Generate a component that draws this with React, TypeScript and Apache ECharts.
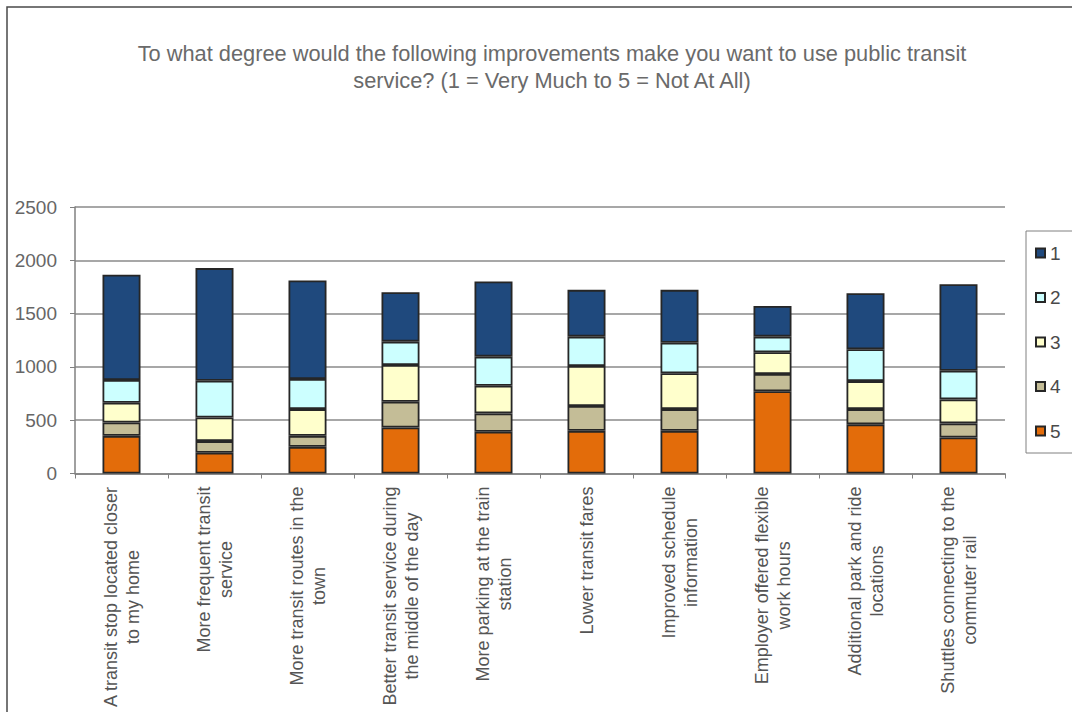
import React, { useEffect, useRef } from "react";
import * as echarts from "echarts";

const titleLines = [
  "To what degree would the following improvements make you want to use public transit",
  "service? (1 = Very Much to 5 = Not At All)",
];

const categories = [
  "A transit stop located closer\nto my home",
  "More frequent transit\nservice",
  "More transit routes in the\ntown",
  "Better transit service during\nthe middle of the day",
  "More parking at the train\nstation",
  "Lower transit fares",
  "Improved schedule\ninformation",
  "Employer offered flexible\nwork hours",
  "Additional park and ride\nlocations",
  "Shuttles connecting to the\ncommuter rail",
];

const legendOrder = ["1", "2", "3", "4", "5"];

// values per rating (stacked bottom to top: 5, 4, 3, 2, 1)
const rating5 = [353, 194, 250, 432, 391, 400, 400, 771, 461, 338];
const rating4 = [126, 110, 103, 241, 173, 233, 204, 162, 143, 132];
const rating3 = [185, 222, 251, 345, 259, 375, 336, 204, 263, 225];
const rating2 = [213, 344, 282, 219, 273, 276, 287, 147, 298, 269];
const rating1 = [987, 1057, 924, 464, 705, 439, 496, 288, 527, 812];

const yTicks = { min: 0, max: 2500, interval: 500 };

const FONT = "'Liberation Sans', Arial, sans-serif";

export default function App() {
  const ref = useRef<HTMLDivElement>(null);

  useEffect(() => {
    if (!ref.current) return;
    const chart = echarts.init(ref.current, null, { renderer: "svg" });

    const seriesDefs = [
      { name: "5", data: rating5, color: "#E36C0A" },
      { name: "4", data: rating4, color: "#C4BD97" },
      { name: "3", data: rating3, color: "#FFFFCC" },
      { name: "2", data: rating2, color: "#CCFFFF" },
      { name: "1", data: rating1, color: "#1F497D" },
    ];

    chart.setOption({
      animation: false,
      backgroundColor: "#ffffff",
      title: {
        text: titleLines.join("\n"),
        left: 547,
        top: 35,
        textAlign: "center",
        textStyle: {
          fontFamily: FONT,
          fontSize: 21.8,
          fontWeight: "normal",
          color: "#6a6a6a",
          lineHeight: 27,
        },
      },
      graphic: [
        {
          type: "rect",
          shape: { x: 7, y: 7, width: 1200, height: 900 },
          style: { fill: "none", stroke: "#4a4a4a", lineWidth: 1.5 },
          silent: true,
          z: -1,
        },
      ],
      legend: {
        data: legendOrder,
        orient: "vertical",
        left: 1026,
        top: 231,
        padding: [12, 12, 12, 9],
        icon: "rect",
        itemWidth: 9,
        itemHeight: 9,
        itemGap: 24.5,
        itemTextGap: 4,
        borderColor: "#808080",
        borderWidth: 1,
        textStyle: {
          fontFamily: FONT,
          fontSize: 19,
          lineHeight: 20,
          color: "#4a4a4a",
        },
      },
      grid: {
        left: 75,
        right: 67,
        top: 207,
        bottom: 238.5,
        containLabel: false,
      },
      xAxis: {
        type: "category",
        data: categories,
        axisLine: { lineStyle: { color: "#808080", width: 1.5 } },
        axisTick: { show: true, length: 5, lineStyle: { color: "#808080" } },
        axisLabel: {
          rotate: 90,
          margin: 13,
          interval: 0,
          formatter: (v: string) =>
            v
              .split("\n")
              .map((l) => `{c|${l}}`)
              .join("\n"),
          rich: {
            c: {
              align: "center",
              fontFamily: FONT,
              fontSize: 18,
              lineHeight: 22,
              color: "#555555",
            },
          },
        },
      },
      yAxis: {
        type: "value",
        min: yTicks.min,
        max: yTicks.max,
        interval: yTicks.interval,
        axisLine: { show: true, lineStyle: { color: "#808080", width: 1.5 } },
        axisTick: { show: true, length: 5, lineStyle: { color: "#808080" } },
        axisLabel: {
          margin: 18,
          fontFamily: FONT,
          fontSize: 19,
          color: "#666666",
          formatter: (v: number) => String(v),
        },
        splitLine: { lineStyle: { color: "#8a8a8a", width: 1.5 } },
      },
      series: seriesDefs.map((s) => ({
        name: s.name,
        type: "bar",
        stack: "total",
        data: s.data,
        barWidth: 38,
        itemStyle: { color: s.color, borderColor: "#262626", borderWidth: 1.8 },
      })),
    });

    return () => chart.dispose();
  }, []);

  return (
    <div
      ref={ref}
      style={{ position: "absolute", left: 0, top: 0, width: 1072, height: 712 }}
    />
  );
}
